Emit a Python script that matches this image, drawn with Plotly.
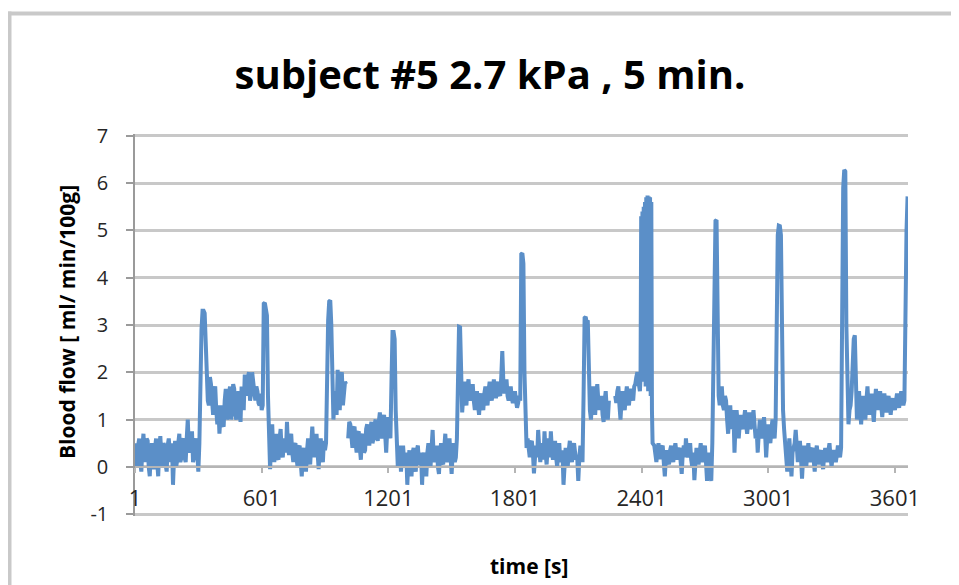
import plotly.graph_objects as go

# ---- data ----
title_text = "subject #5 2.7 kPa , 5 min."
x_title = "time [s]"
y_title = "Blood flow [ ml/ min/100g]"

x_tick_values = [1, 601, 1201, 1801, 2401, 3001, 3601]
x_tick_labels = ["1", "601", "1201", "1801", "2401", "3001", "3601"]
y_tick_values = [-1, 0, 1, 2, 3, 4, 5, 6, 7]
y_tick_labels = ["-1", "0", "1", "2", "3", "4", "5", "6", "7"]

# sample times [s]
time_part1 = list(range(1, 2392, 5))
time_burst = list(range(2393, 2456, 3))
time_part2 = list(range(2461, 3662, 5))

# blood flow [ml/min/100g]
flow_part1 = [
    0.5, 0.2, 0.0, 0.45, 0.6, 0.1, -0.1, 0.4, 0.7, 0.3, 0.1, 0.6, 0.55, 0.0, -0.2, 0.35, 0.5, 0.15, -0.05, 0.4,      # t 1-96
    0.6, 0.1, -0.2, 0.4, 0.65, 0.2, 0.0, 0.5, 0.45, 0.05, -0.1, 0.45, 0.6, 0.3, 0.1, 0.5, -0.38, 0.2, 0.55, 0.0,     # t 101-196
    0.15, 0.5, 0.7, 0.1, 0.2, 0.55, 0.6, 0.2, 0.1, 0.6, 1.0, 0.4, 0.3, 0.65, 0.75, 0.1, 0.2, 0.5, 0.6, 0.3,          # t 201-296
    -0.1, 0.5, 2.3, 2.9, 3.3, 3.3, 3.25, 2.4, 1.8, 1.4, 1.3, 1.9, 1.75, 1.3, 1.1, 1.6, 1.7, 1.2, 0.9, 1.3,           # t 301-396
    0.7, 1.1, 1.3, 0.9, 0.85, 1.4, 1.65, 1.0, 1.1, 1.5, 1.7, 1.0, 1.2, 1.75, 1.65, 1.1, 1.0, 1.45, 1.6, 1.2,         # t 401-496
    0.95, 1.7, 1.5, 1.2, 1.95, 1.6, 1.5, 1.9, 2.0, 1.4, 1.55, 2.0, 1.8, 1.5, 1.4, 1.7, 1.6, 1.35, 1.3, 1.55,         # t 501-596
    1.2, 1.3, 3.45, 3.47, 3.3, 3.2, 1.5, 0.4, -0.05, 0.5, 0.9, 0.3, 0.1, 0.55, 0.7, 0.2, 0.15, 0.6, 0.8, 0.3,        # t 601-696
    0.2, 0.5, 0.6, 0.3, 0.95, 0.4, 0.25, 0.6, 0.7, 0.3, 0.1, 0.45, 0.5, 0.2, 0.0, 0.4, 0.45, 0.1, -0.2, 0.3,         # t 701-796
    0.4, 0.1, -0.1, 0.35, 0.6, 0.25, 0.05, 0.5, 0.85, 0.4, 0.2, 0.55, 0.7, 0.3, -0.05, 0.4, 0.6, 0.2, 0.1, 0.55,     # t 801-896
    0.35, 0.5, 2.4, 3.1, 3.5, 3.52, 3.0, 2.0, 1.0, 1.4, 1.6, 1.1, 2.05, 1.5, 1.2, 1.9, 2.0, 1.3, 1.5, 1.8,           # t 901-996
    1.75, None, 0.6, 0.95, 0.9, 0.5, 0.4, 0.8, 0.85, 0.5, 0.3, 0.7, 0.75, 0.4, 0.15, 0.6, 0.7, 0.3, 0.35, 0.8,       # t 1001-1096
    0.9, 0.6, 0.45, 0.8, 0.95, 0.5, 0.6, 0.9, 1.0, 0.7, 0.55, 0.95, 1.15, 0.8, 0.6, 1.0, 1.1, 0.7, 0.3, 0.8,         # t 1101-1196
    1.05, 0.9, 0.6, 1.8, 2.85, 2.85, 2.7, 1.2, 0.5, 0.0, 0.3, 0.45, -0.1, 0.3, 0.45, 0.1, 0.0, 0.3, -0.38, 0.1,      # t 1201-1296
    0.35, 0.05, -0.2, 0.3, 0.4, 0.0, -0.1, 0.35, 0.45, 0.1, 0.05, 0.3, -0.38, 0.2, 0.3, 0.0, -0.2, 0.3, 0.5, 0.15,   # t 1301-1396
    0.0, 0.4, 0.78, 0.2, 0.1, 0.35, 0.45, 0.0, -0.15, 0.3, 0.5, 0.1, 0.05, 0.4, 0.7, 0.25, 0.1, 0.45, 0.6, 0.2,      # t 1401-1496
    -0.15, 0.3, 0.5, 0.1, 0.2, 0.6, 2.6, 2.96, 2.95, 2.0, 1.15, 1.5, 1.8, 1.4, 1.3, 1.7, 1.85, 1.5, 1.4, 1.5,        # t 1501-1596
    1.75, 1.4, 1.2, 1.5, 1.6, 1.3, 1.1, 1.45, 1.55, 1.3, 1.2, 1.55, 1.7, 1.45, 1.3, 1.6, 1.8, 1.55, 1.4, 1.6,        # t 1601-1696
    1.85, 1.6, 1.45, 1.7, 1.8, 1.55, 1.5, 1.9, 2.45, 1.8, 1.55, 1.7, 1.85, 1.5, 1.4, 1.6, 1.7, 1.45, 1.35, 1.5,      # t 1701-1796
    1.6, 1.4, 1.25, 1.35, 1.5, 1.4, 4.5, 4.52, 4.3, 2.0, 0.85, 0.4, 0.6, 0.35, 0.2, 0.5, 0.55, 0.3, -0.14, 0.2,      # t 1801-1896
    0.45, 0.2, 0.78, 0.4, 0.1, 0.35, 0.5, 0.15, 0.75, 0.3, 0.05, 0.4, 0.6, 0.2, 0.75, 0.35, 0.15, 0.4, 0.55, 0.2,    # t 1901-1996
    0.0, 0.3, 0.5, 0.1, 0.2, 0.35, -0.38, 0.1, 0.4, 0.2, 0.0, 0.35, 0.55, 0.2, 0.1, 0.4, 0.5, 0.3, 0.15, 0.2,        # t 2001-2096
    -0.3, 0.2, 0.45, 0.3, 0.1, 1.5, 3.15, 3.17, 3.05, 3.1, 1.8, 1.2, 1.0, 1.5, 1.7, 1.3, 1.1, 1.5, 1.75, 1.4,        # t 2101-2196
    1.2, 1.4, 1.5, 1.1, 0.95, 1.4, 1.6, 1.2, 1.0, 1.4, None, None, None, None, None, 1.5, 1.35, 1.6, 1.7, 1.3,       # t 2201-2296
    1.0, 1.4, 1.6, 1.3, 1.2, 1.5, 1.7, 1.4, 1.3, 1.55, 1.65, 1.5, 1.4, 1.7, 1.75, 1.9, 2.0, 1.8, 1.6,                # t 2301-2391
]
flow_burst = [
    1.6, 1.9, 5.3, 2.0, 5.4, 1.8, 5.5, 2.2, 5.6, 1.7, 5.7,
    2.0, 5.74, 1.6, 5.72, 1.8, 5.7, 1.5, 5.6, 1.2, 0.5,                                                             # t 2393-2453
]
flow_part2 = [
    0.45, 0.3, 0.1, 0.35, 0.5, 0.2, 0.2, 0.4, 0.45, 0.1, -0.2, 0.2, 0.35, 0.15, 0.05, 0.35, 0.45, 0.2, 0.1, 0.35,   # t 2461-2556
    0.5, 0.3, 0.15, 0.35, 0.4, 0.1, -0.15, 0.3, 0.45, 0.2, 0.6, 0.3, 0.2, 0.4, 0.5, 0.15, 0.0, 0.3, -0.28, 0.1,     # t 2561-2656
    0.4, 0.2, 0.05, 0.3, 0.5, 0.2, 0.1, 0.35, 0.45, 0.1, -0.3, 0.2, 0.3, 0.0, -0.3, 0.5, 2.5, 4.5, 5.2, 5.22,       # t 2661-2756
    1.85, 1.5, 1.3, 1.6, 1.7, 1.3, 1.2, 1.5, 1.4, 1.0, 0.7, 1.1, 1.3, 0.8, 0.9, 1.2, 0.3, 0.9, 1.2, 0.9,            # t 2761-2856
    0.6, 0.9, 1.1, 0.85, 0.8, 1.0, 1.2, 0.9, 0.7, 0.95, 1.15, 0.8, 0.85, 1.0, 1.2, 0.9, 0.6, 0.8, 0.3, 0.7,         # t 2861-2956
    1.0, 0.8, 0.6, 0.85, 1.05, 0.7, 0.2, 0.6, 0.9, 0.7, 0.5, 0.8, 1.0, 0.75, 0.6, 1.0, 4.4, 4.9, 5.1, 5.09,         # t 2961-3056
    4.9, 2.5, 1.2, 0.8, 0.5, 0.3, -0.1, 0.35, 0.6, 0.2, -0.2, 0.3, 0.4, 0.5, 0.78, 0.3, 0.1, 0.4, 0.55, 0.2,        # t 3061-3156
    -0.25, 0.2, 0.45, 0.2, 0.0, 0.3, 0.5, 0.2, 0.1, 0.35, 0.4, 0.15, -0.1, 0.3, 0.45, 0.2, 0.05, 0.3, 0.35, 0.15,   # t 3161-3256
    -0.05, 0.25, 0.4, 0.2, 0.1, 0.35, 0.5, 0.2, 0.0, 0.25, 0.35, 0.3, 0.1, 0.25, 0.45, 0.3, 0.2, 0.4, 5.5, 5.9,     # t 3261-3356
    6.28, 6.25, 3.0, 1.5, 0.9, 1.2, 1.3, 1.6, 2.4, 2.7, 2.78, 1.8, 1.0, 1.3, 1.6, 1.2, 0.9, 1.3, 1.5, 1.2,          # t 3361-3456
    1.0, 1.4, 1.7, 1.3, 1.1, 1.4, 1.55, 1.2, 0.95, 1.35, 1.65, 1.4, 1.2, 1.45, 1.6, 1.3, 1.05, 1.35, 1.55, 1.3,     # t 3461-3556
    1.15, 1.35, 1.5, 1.3, 1.1, 1.35, 1.45, 1.3, 1.2, 1.4, 1.55, 1.35, 1.25, 1.45, 1.6, 1.4, 1.3, 1.4, 4.16, 5.0,    # t 3561-3656
    5.72,                                                                                                            # t 3661
]

assert len(time_part1) == len(flow_part1), (len(time_part1), len(flow_part1))
assert len(time_burst) == len(flow_burst), (len(time_burst), len(flow_burst))
assert len(time_part2) == len(flow_part2), (len(time_part2), len(flow_part2))

time_s = time_part1 + time_burst + time_part2
flow = flow_part1 + flow_burst + flow_part2

# ---- figure ----
LINE_COLOR = "#5b8fc8"
GRID_COLOR = "#c8c8c8"
AXIS_COLOR = "#9a9a9a"
TEXT_COLOR = "#262626"
FONT = "Open Sans"

PAGE_OFFSET = 8          # default body margin of the html page
W, H = 959 - PAGE_OFFSET, 585 - PAGE_OFFSET
ML, MR, MT, MB = 127, 51, 126, 69
PW, PH = W - ML - MR, H - MT - MB
Y_RANGE = [-1.04, 7.04]

def px_to_paper_x(page_px):
    return (page_px - PAGE_OFFSET - ML) / PW

def py_to_paper_y(page_py):
    return (H - MB - (page_py - PAGE_OFFSET)) / PH

fig = go.Figure()
fig.add_trace(go.Scatter(
    x=time_s, y=flow, mode="lines",
    line=dict(color=LINE_COLOR, width=4),
    connectgaps=False, hoverinfo="skip", showlegend=False,
))

fig.update_layout(
    width=W, height=H,
    margin=dict(l=ML, r=MR, t=MT, b=MB),
    paper_bgcolor="white", plot_bgcolor="white",
    font=dict(family=FONT, color=TEXT_COLOR),
    title=dict(
        text=title_text, x=(490 - PAGE_OFFSET) / W, xref="container", xanchor="center",
        y=1 - (75 - PAGE_OFFSET) / H, yref="container", yanchor="middle",
        font=dict(family=FONT, size=40, color="#000000", weight="bold"),
    ),
    xaxis=dict(
        range=[1, 3663], anchor="free",
        position=(0 - Y_RANGE[0]) / (Y_RANGE[1] - Y_RANGE[0]),
        showline=True, linecolor="#b5b5b5", linewidth=2,
        ticks="outside", ticklen=5, tickcolor="#b5b5b5", tickwidth=1.5,
        tickvals=x_tick_values, ticktext=x_tick_labels,
        tickfont=dict(family=FONT, size=22, color=TEXT_COLOR),
        ticklabelstandoff=7,
        showgrid=False, zeroline=False,
    ),
    yaxis=dict(
        range=Y_RANGE,
        tickvals=y_tick_values, ticktext=y_tick_labels,
        showgrid=True, gridcolor=GRID_COLOR, gridwidth=2.5,
        showline=True, linecolor=AXIS_COLOR, linewidth=1.5,
        ticks="outside", ticklen=7, tickcolor=AXIS_COLOR, tickwidth=1.5,
        tickfont=dict(family=FONT, size=20, color=TEXT_COLOR),
        ticklabelstandoff=14,
        zeroline=False,
    ),
    annotations=[
        dict(text=y_title, xref="paper", yref="paper",
             x=px_to_paper_x(67), y=py_to_paper_y(322),
             xanchor="center", yanchor="middle", textangle=-90, showarrow=False,
             font=dict(family=FONT, size=21, color="#000000", weight="bold")),
        dict(text=x_title, xref="paper", yref="paper",
             x=px_to_paper_x(529), y=py_to_paper_y(566),
             xanchor="center", yanchor="middle", showarrow=False,
             font=dict(family=FONT, size=21, color="#000000", weight="bold")),
    ],
    shapes=[
        dict(type="line", xref="paper", yref="paper", layer="above",
             x0=px_to_paper_x(7), x1=px_to_paper_x(970),
             y0=py_to_paper_y(13.5), y1=py_to_paper_y(13.5),
             line=dict(color="#c9c9c9", width=4)),
        dict(type="line", xref="paper", yref="paper", layer="above",
             x0=px_to_paper_x(9.5), x1=px_to_paper_x(9.5),
             y0=py_to_paper_y(11.5), y1=py_to_paper_y(600),
             line=dict(color="#c9c9c9", width=4)),
    ],
)

fig.write_html("out.html")
